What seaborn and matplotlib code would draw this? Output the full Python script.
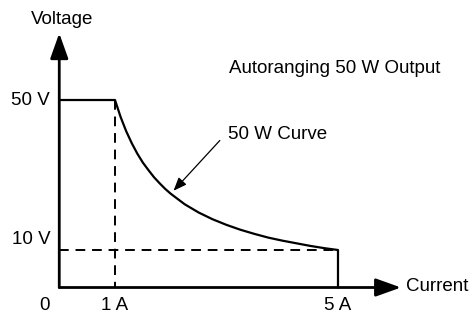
import matplotlib as mpl

mpl.use('Agg')
import matplotlib.pyplot as plt
import pandas as pd
import seaborn as sns

# output profile: flat at 50 V up to 1 A, then the 50 W curve down to 5 A
current = [0, 1, 1.1, 1.2, 1.3, 1.4, 1.5, 1.6, 1.7, 1.8, 1.9, 2, 2.25, 2.5, 2.75, 3,
           3.25, 3.5, 3.75, 4, 4.25, 4.5, 4.75, 5, 5]
voltage = [50, 50, 45.5, 41.7, 38.5, 35.7, 33.3, 31.3, 29.4, 27.8, 26.3, 25, 22.2, 20, 18.2, 16.7,
           15.4, 14.3, 13.3, 12.5, 11.8, 11.1, 10.5, 10, 0]

# dashed guide lines
guide_x = [1, 1]
guide_x_v = [50, 0]
guide_y_i = [0, 5]
guide_y = [10, 10]

x_ticks = [0, 1, 5]
x_labels = ['0', '1 A', '5 A']
y_ticks = [50, 10]
y_labels = ['50 V', '10 V']

sns.set_style('white')
plt.rcParams['font.family'] = ['Liberation Sans', 'DejaVu Sans']
plt.rcParams['text.color'] = 'black'

fig = plt.figure(figsize=(4.7, 3.16), dpi=100)
ax = fig.add_axes([0, 0, 1, 1])
ax.set_xlim(-1.063, 7.368)
ax.set_ylim(-7.6, 76.67)
ax.axis('off')

df = pd.DataFrame({'current': current, 'voltage': voltage})
sns.lineplot(data=df, x='current', y='voltage', sort=False, estimator=None,
             color='black', lw=1.6, ax=ax)
ax.plot(guide_x, guide_x_v, color='black', lw=1.4, ls=(0, (5, 3.5)))
ax.plot(guide_y_i, guide_y, color='black', lw=1.4, ls=(0, (5, 3.5)))

# axes with arrow heads
head = '-|>,head_length=0.7,head_width=0.25'
ax.annotate('', xy=(0, 67.8), xytext=(0, 0),
            arrowprops=dict(arrowstyle=head, color='black', lw=2, mutation_scale=22, shrinkA=0, shrinkB=0))
ax.annotate('', xy=(6.13, 0), xytext=(0, 0),
            arrowprops=dict(arrowstyle=head, color='black', lw=2, mutation_scale=22, shrinkA=0, shrinkB=0))

fs = 13.5
for t, lab in zip(x_ticks, x_labels):
    xx = -0.26 if t == 0 else t
    ax.text(xx, -4.9, lab, ha='center', va='center', fontsize=fs)
for t, lab in zip(y_ticks, y_labels):
    yy = t if t == 50 else t + 2.8
    ax.text(-0.51, yy, lab, ha='center', va='center', fontsize=fs)

ax.text(0.05, 71.6, 'Voltage', ha='center', va='center', fontsize=fs)
ax.text(6.78, 0.2, 'Current', ha='center', va='center', fontsize=fs)
ax.text(3.05, 58.5, 'Autoranging 50 W Output', ha='left', va='center', fontsize=fs)
ax.text(3.03, 40.7, '50 W Curve', ha='left', va='center', fontsize=fs)
ax.annotate('', xy=(2.05, 25.8), xytext=(2.88, 39.2),
            arrowprops=dict(arrowstyle='-|>,head_length=0.5,head_width=0.2', color='black',
                            lw=0.9, mutation_scale=16, shrinkA=0, shrinkB=0))

fig.savefig('out.png', dpi=100)
